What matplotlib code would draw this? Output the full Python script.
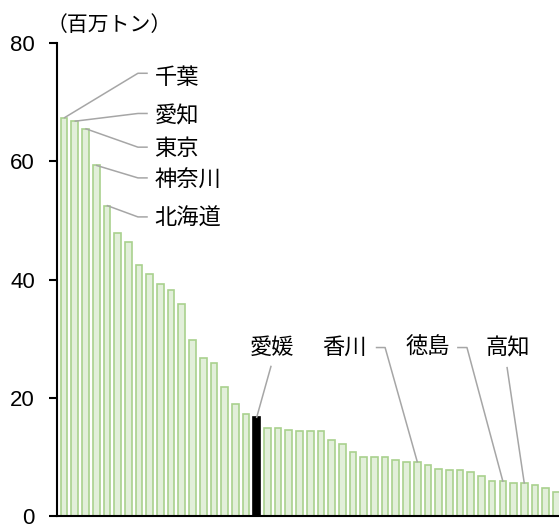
import matplotlib.pyplot as plt

# Per-prefecture volume (million tonnes), sorted descending; ranks 1..47
ranks = list(range(1, 48))
volumes = [67.4, 66.8, 65.5, 59.3, 52.5, 47.9, 46.3, 42.5, 41.0, 39.3,
           38.2, 35.8, 29.7, 26.7, 25.9, 21.8, 18.9, 17.3, 16.7, 14.9,
           14.9, 14.6, 14.3, 14.3, 14.3, 12.9, 12.1, 10.8, 10.0, 10.0,
           10.0, 9.4, 9.2, 9.2, 8.6, 8.0, 7.8, 7.8, 7.5, 6.7,
           5.9, 5.9, 5.6, 5.6, 5.3, 4.8, 4.0]

highlight_rank = 19  # 愛媛

# Labelled prefectures and the rank they sit at
left_labels = ["千葉", "愛知", "東京", "神奈川", "北海道"]
left_ranks = [1, 2, 3, 4, 5]
left_line_y = [74.9, 68.1, 62.4, 57.2, 50.6]
left_text_y = [74.2, 67.6, 62.2, 56.8, 50.4]

right_labels = ["愛媛", "香川", "徳島", "高知"]
right_ranks = [19, 34, 42, 44]
right_text_x = [19.4, 26.2, 34.0, 41.5]

JP = ["Noto Sans CJK JP", "DejaVu Sans"]
FACE = "#e2efda"
EDGE = "#a9d18e"
LEADER = "#a6a6a6"

fig = plt.figure(figsize=(5.59, 5.26), dpi=100)
ax = fig.add_axes([0.102, 0.019, 0.898, 0.899])

x = [r - 1 for r in ranks]
colors = ["black" if r == highlight_rank else FACE for r in ranks]
edges = ["black" if r == highlight_rank else EDGE for r in ranks]
ax.bar(x, volumes, width=0.62, color=colors, edgecolor=edges, linewidth=1.2)

ax.set_ylim(0, 80)
ax.set_xlim(-0.66, 46.25)
ax.set_yticks([0, 20, 40, 60, 80])
ax.set_xticks([])
for s in ["top", "right"]:
    ax.spines[s].set_visible(False)
for s in ["left", "bottom"]:
    ax.spines[s].set_linewidth(1.5)
ax.tick_params(axis="y", length=6, width=1.5, pad=10, labelsize=16)
for t in ax.get_yticklabels():
    t.set_fontfamily("Liberation Sans")

# left-hand labels with elbow leaders
for name, r, ly, ty in zip(left_labels, left_ranks, left_line_y, left_text_y):
    bx = r - 1 + 0.05
    by = volumes[r - 1]
    ax.plot([bx, 6.9, 7.75], [by, ly, ly], color=LEADER, lw=1.1,
            clip_on=False, zorder=3)
    ax.text(8.45, ty, name, fontsize=16, family=JP, va="center", ha="left")

# right-hand labels
label_y = 28.5
for name, r, tx in zip(right_labels, right_ranks, right_text_x):
    bx = r - 1
    by = volumes[r - 1]
    if name == "愛媛":
        ax.plot([bx, 19.33], [by, 25.3], color=LEADER, lw=1.1, zorder=3)
    elif name == "香川":
        ax.plot([bx, 30.0, 29.2], [by, label_y, label_y], color=LEADER, lw=1.1, zorder=3)
    elif name == "徳島":
        ax.plot([bx, 37.65, 36.8], [by, label_y, label_y], color=LEADER, lw=1.1, zorder=3)
    else:
        ax.plot([bx, 41.4], [by, 25.1], color=LEADER, lw=1.1, zorder=3)
    ax.text(tx, label_y, name, fontsize=16, family=JP, va="center", ha="center")

fig.text(47 / 559, 1 - 25 / 526, "（百万トン）", fontsize=15, family=JP,
         va="center", ha="left")

fig.savefig("out.png", dpi=100)
